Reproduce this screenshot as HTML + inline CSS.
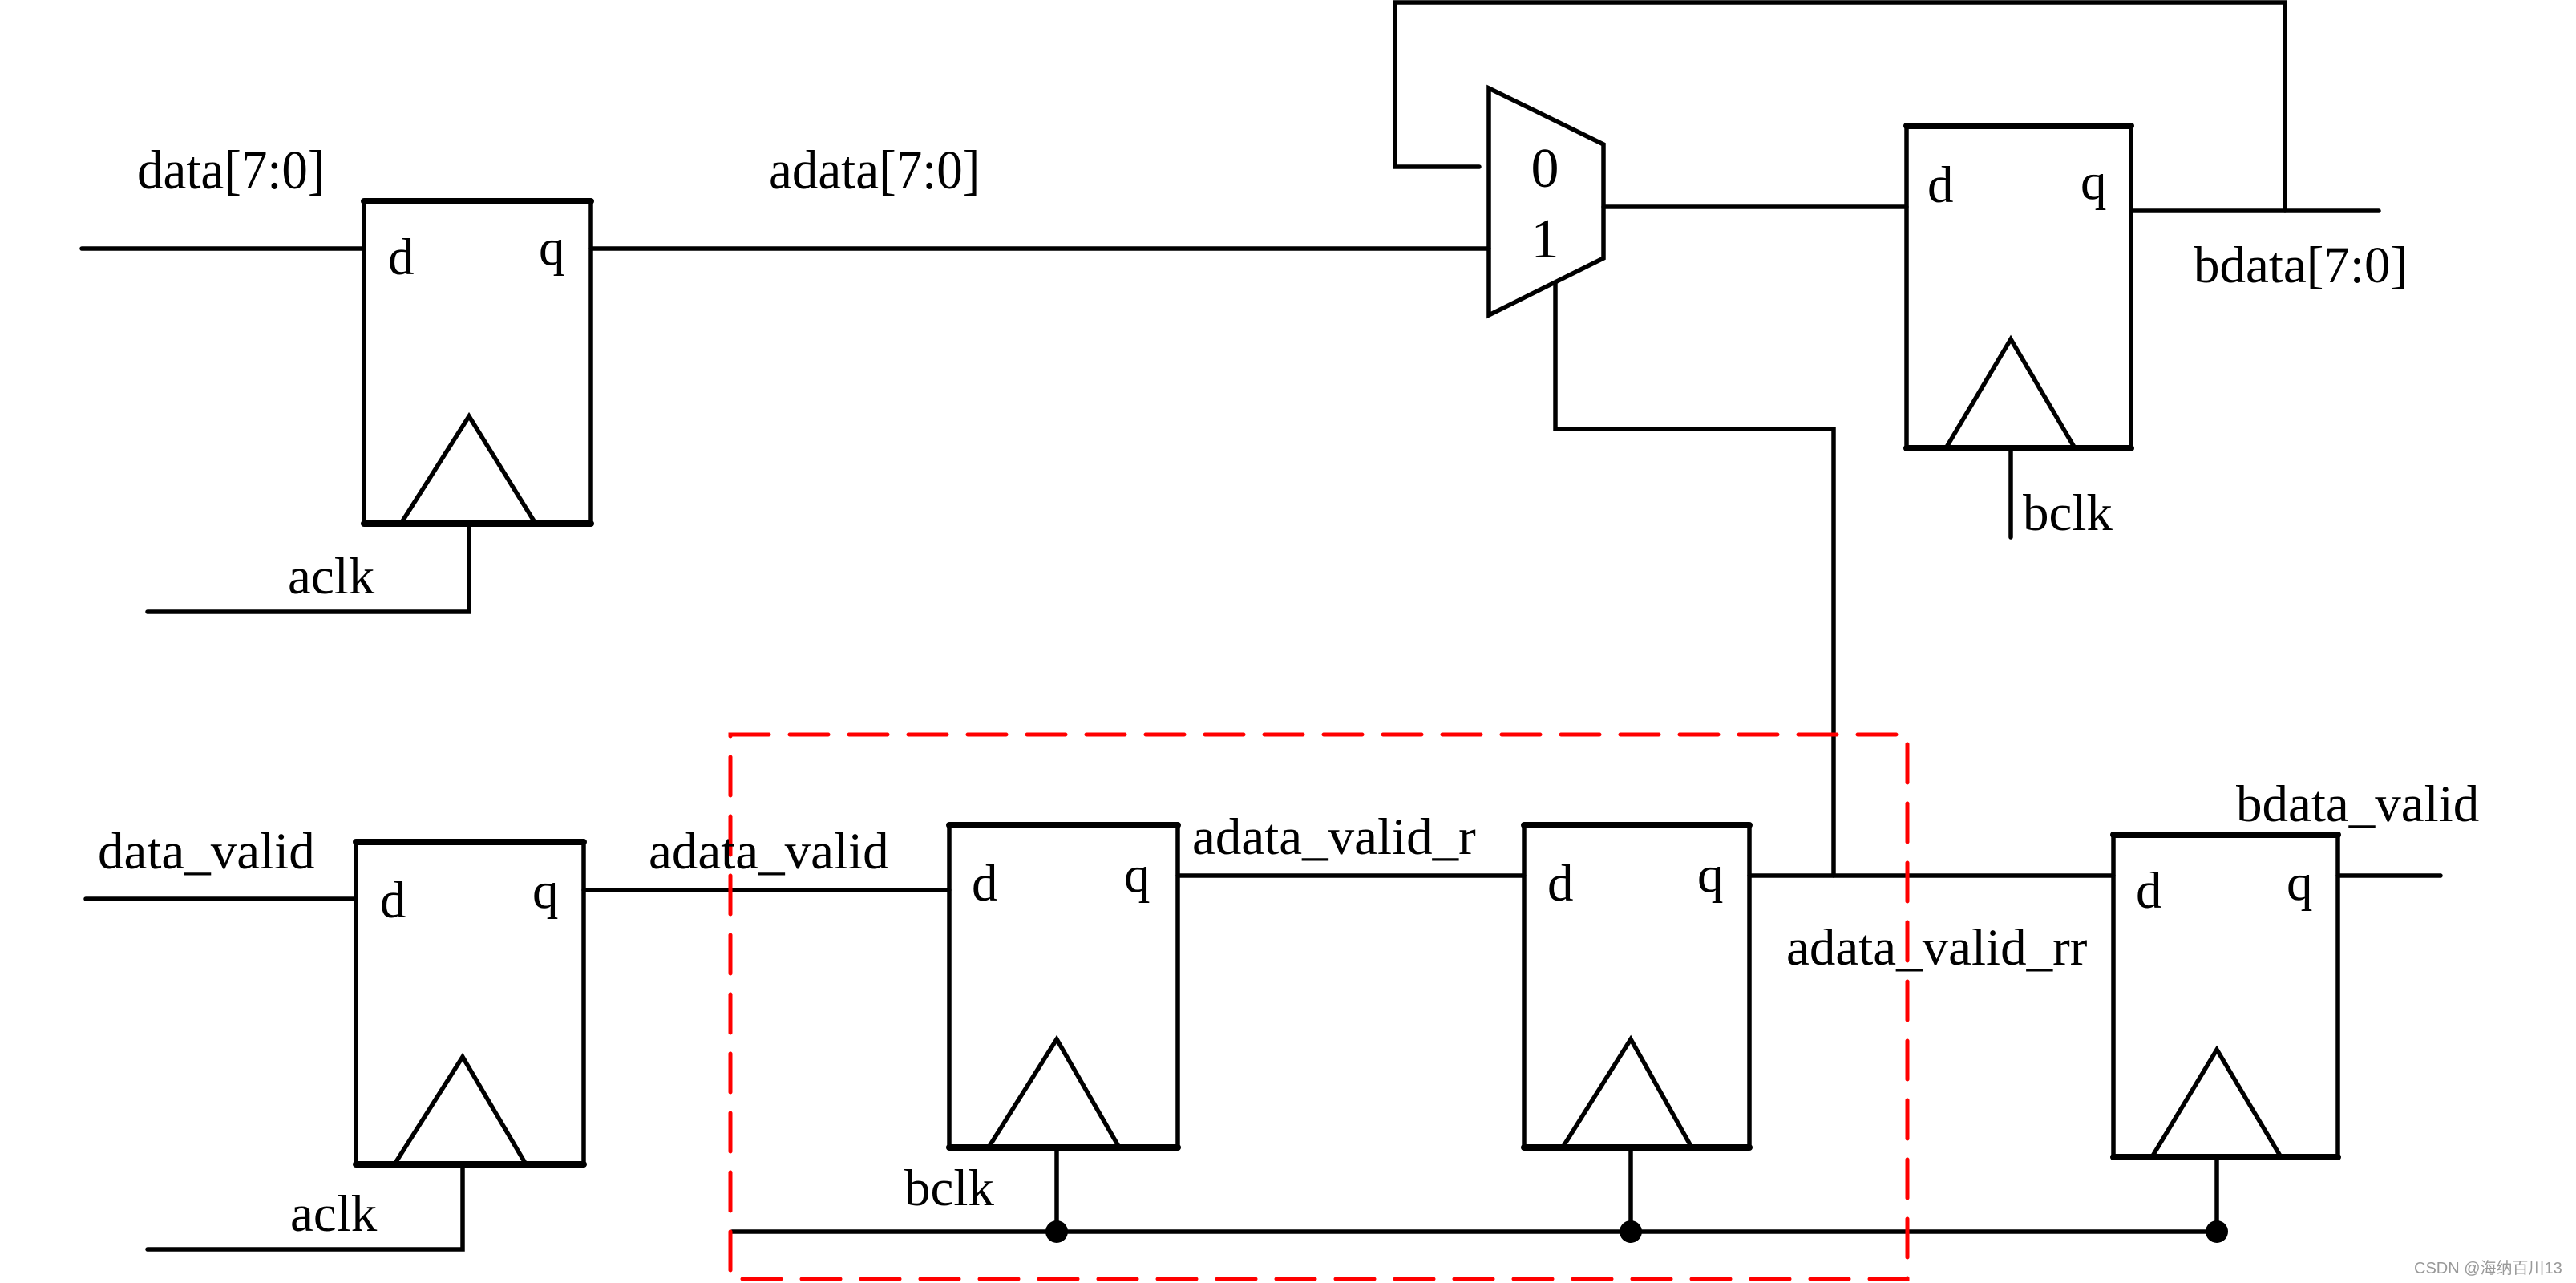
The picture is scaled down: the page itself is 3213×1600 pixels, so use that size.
<!DOCTYPE html>
<html><head><meta charset="utf-8"><style>
html,body{margin:0;padding:0;background:#fff;}
svg{display:block}
text{font-family:"Liberation Serif",serif;fill:#000;}
</style></head><body>
<svg width="3213" height="1600" viewBox="0 0 3213 1600" xmlns="http://www.w3.org/2000/svg">
<g stroke="#000" stroke-width="5.5" fill="none" stroke-linecap="round">
<!-- FF1 -->
<rect x="454" y="251" width="283" height="402"/>
<line x1="454" y1="653" x2="737" y2="653" stroke-width="8"/>
<line x1="454" y1="251" x2="737" y2="251" stroke-width="8"/>
<polyline points="500,653 585,519 668,653"/>
<line x1="102" y1="310" x2="454" y2="310"/>
<line x1="737" y1="310" x2="1857" y2="310"/>
<polyline points="585,653 585,763 184,763"/>
<!-- MUX -->
<polygon points="1857,110 2000,180 2000,322 1857,393"/>
<polyline points="1845,208 1740,208 1740,3 2850,3 2850,263"/>
<line x1="2000" y1="258" x2="2378" y2="258"/>
<polyline points="1940,352 1940,535 2287,535 2287,1092"/>
<!-- FF2 -->
<rect x="2378" y="157" width="280" height="402"/>
<line x1="2378" y1="157" x2="2658" y2="157" stroke-width="8"/>
<line x1="2378" y1="559" x2="2658" y2="559" stroke-width="8"/>
<polyline points="2427,559 2508,423 2588,559"/>
<line x1="2658" y1="263" x2="2967" y2="263"/>
<line x1="2508" y1="559" x2="2508" y2="670"/>
<!-- FF3 -->
<rect x="444" y="1050" width="284" height="402"/>
<line x1="444" y1="1050" x2="728" y2="1050" stroke-width="8"/>
<line x1="444" y1="1452" x2="728" y2="1452" stroke-width="8"/>
<polyline points="492,1452 577,1318 656,1452"/>
<line x1="107" y1="1121" x2="444" y2="1121"/>
<line x1="728" y1="1110" x2="1184" y2="1110"/>
<polyline points="577,1452 577,1558 184,1558"/>
<!-- FF4 -->
<rect x="1184" y="1029" width="285" height="402"/>
<line x1="1184" y1="1029" x2="1469" y2="1029" stroke-width="8"/>
<line x1="1184" y1="1431" x2="1469" y2="1431" stroke-width="8"/>
<polyline points="1233,1431 1318,1296 1396,1431"/>
<line x1="1469" y1="1092" x2="1901" y2="1092"/>
<line x1="1318" y1="1431" x2="1318" y2="1536"/>
<!-- FF5 -->
<rect x="1901" y="1029" width="281" height="402"/>
<line x1="1901" y1="1029" x2="2182" y2="1029" stroke-width="8"/>
<line x1="1901" y1="1431" x2="2182" y2="1431" stroke-width="8"/>
<polyline points="1949,1431 2034,1296 2110,1431"/>
<line x1="2182" y1="1092" x2="2636" y2="1092"/>
<line x1="2034" y1="1431" x2="2034" y2="1536"/>
<!-- FF6 -->
<rect x="2636" y="1041" width="280" height="402"/>
<line x1="2636" y1="1041" x2="2916" y2="1041" stroke-width="8"/>
<line x1="2636" y1="1443" x2="2916" y2="1443" stroke-width="8"/>
<polyline points="2684,1443 2765,1309 2845,1443"/>
<line x1="2916" y1="1092" x2="3044" y2="1092"/>
<line x1="2765" y1="1443" x2="2765" y2="1536"/>
<!-- bus -->
<line x1="913" y1="1536" x2="2765" y2="1536"/>
</g>
<g fill="#000">
<circle cx="1318" cy="1536" r="14"/>
<circle cx="2034" cy="1536" r="14"/>
<circle cx="2765" cy="1536" r="14"/>
</g>
<rect x="911" y="916" width="1468" height="679" fill="none" stroke="#f00" stroke-width="5" stroke-dasharray="48,26" stroke-linecap="round"/>
<g font-size="65">
<text x="171" y="235" transform="translate(0,-14) scale(1,1.06)">data[7:0]</text>
<text x="959" y="235" transform="translate(0,-14) scale(1,1.06)">adata[7:0]</text>
<text x="359" y="740">aclk</text>
<text x="2736" y="352">bdata[7:0]</text>
<text x="2523" y="661">bclk</text>
<text x="122" y="1083">data_valid</text>
<text x="809" y="1083">adata_valid</text>
<text x="1487" y="1065">adata_valid_r</text>
<text x="2228" y="1203">adata_valid_rr</text>
<text x="2789" y="1024">bdata_valid</text>
<text x="362" y="1535">aclk</text>
<text x="1128" y="1503">bclk</text>
<text x="484" y="342">d</text><text x="672" y="330">q</text>
<text x="2404" y="252">d</text><text x="2595" y="248">q</text>
<text x="474" y="1144">d</text><text x="664" y="1132">q</text>
<text x="1212" y="1123">d</text><text x="1402" y="1112">q</text>
<text x="1930" y="1123">d</text><text x="2117" y="1112">q</text>
<text x="2664" y="1132">d</text><text x="2852" y="1122">q</text>
</g>
<g font-size="70">
<text x="1927" y="233" text-anchor="middle">0</text>
<text x="1927" y="321" text-anchor="middle">1</text>
</g>
<text x="3011" y="1588" font-size="20" style="font-family:'Liberation Sans','Noto Sans CJK SC',sans-serif;fill:#999">CSDN @海纳百川13</text>
</svg>
</body></html>
